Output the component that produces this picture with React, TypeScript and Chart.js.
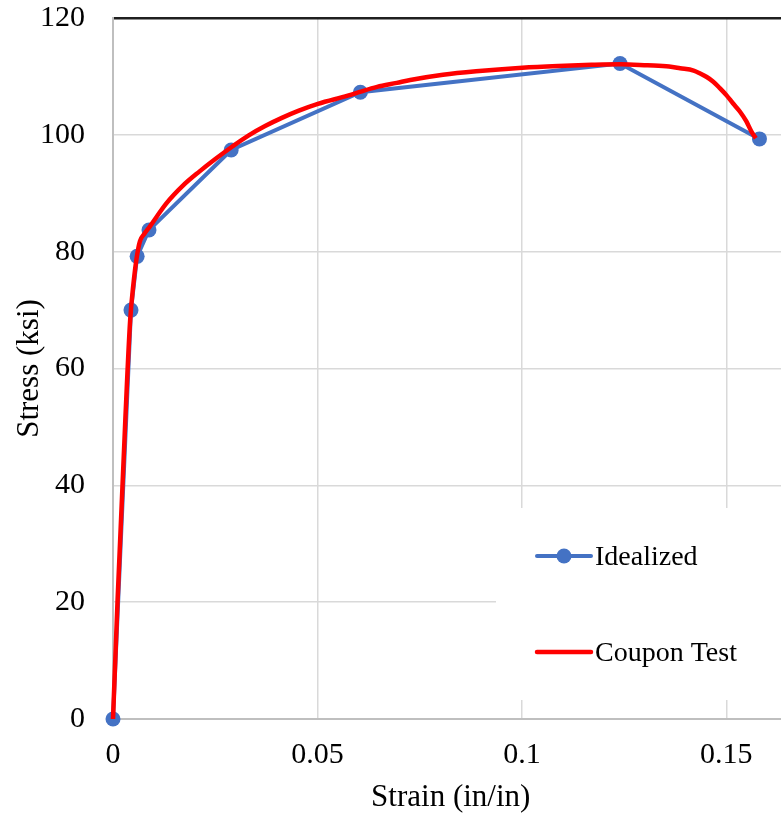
import React, { useEffect, useRef } from "react";
import { Chart, registerables } from "chart.js";

Chart.register(...registerables);

// ---- data ----
const idealStrain = [0, 0.0044, 0.0059, 0.0088, 0.0289, 0.0605, 0.124, 0.1581];
const idealStress = [0, 70.0, 79.2, 83.7, 97.4, 107.3, 112.2, 99.3];

const couponStrain = [
  0, 0.0011, 0.003, 0.0042, 0.005, 0.0058, 0.0066, 0.0076, 0.009, 0.0131, 0.0171,
  0.0211, 0.0251, 0.0292, 0.0332, 0.0372, 0.0413, 0.0453, 0.0501, 0.0574, 0.0606,
  0.0646, 0.0694, 0.0727, 0.0807, 0.0888, 0.1001, 0.1089, 0.117, 0.1242, 0.1307,
  0.136, 0.1387, 0.142, 0.1436, 0.1452, 0.1468, 0.1484, 0.15, 0.1516, 0.1533,
  0.1549, 0.1561, 0.1572,
];
const couponStress = [
  0, 20.0, 51.0, 68.3, 74.5, 79.0, 81.8, 83.0, 84.3, 88.3, 91.3,
  93.7, 95.9, 98.0, 99.9, 101.5, 102.9, 104.1, 105.3, 106.7, 107.4,
  108.2, 108.9, 109.4, 110.3, 110.9, 111.5, 111.8, 112.0, 112.1, 111.9,
  111.7, 111.4, 111.0, 110.5, 109.9, 109.1, 108.0, 106.8, 105.4, 104.0,
  102.3, 100.6, 99.4,
];

const xTicks = [0, 0.05, 0.1, 0.15];
const xTickLabels = ["0", "0.05", "0.1", "0.15"];
const yTicks = [0, 20, 40, 60, 80, 100, 120];

const seriesNames = ["Idealized", "Coupon Test"];

const FONT = "'Liberation Serif', 'Times New Roman', serif";

const boxLegend = {
  id: "boxLegend",
  afterDraw(chart: any) {
    const { ctx, chartArea } = chart;
    const x0 = chartArea.left + 383;
    const y0 = 508;
    const y1 = 700;
    ctx.save();
    ctx.fillStyle = "#ffffff";
    ctx.fillRect(x0, y0, chart.width - x0, y1 - y0);
    chart.data.datasets.forEach((ds: any, i: number) => {
      const rowY = 556 + i * 96;
      const lx0 = x0 + 41;
      const lx1 = x0 + 95;
      ctx.strokeStyle = ds.borderColor;
      ctx.lineWidth = ds.borderWidth;
      ctx.lineCap = "round";
      ctx.beginPath();
      ctx.moveTo(lx0, rowY);
      ctx.lineTo(lx1, rowY);
      ctx.stroke();
      if (ds.pointRadius > 0) {
        ctx.fillStyle = ds.pointBackgroundColor;
        ctx.beginPath();
        ctx.arc((lx0 + lx1) / 2, rowY, ds.pointRadius, 0, Math.PI * 2);
        ctx.fill();
      }
      ctx.fillStyle = "#000000";
      ctx.font = `28px ${FONT}`;
      ctx.textAlign = "left";
      ctx.textBaseline = "alphabetic";
      ctx.fillText(ds.label, lx1 + 4, rowY + 9);
    });
    ctx.restore();
  },
};

export default function App() {
  const ref = useRef<HTMLCanvasElement | null>(null);

  useEffect(() => {
    if (!ref.current) return;
    const chart = new Chart(ref.current, {
      type: "line",
      data: {
        datasets: [
          {
            label: seriesNames[0],
            data: idealStrain.map((x, i) => ({ x, y: idealStress[i] })),
            borderColor: "#4472c4",
            backgroundColor: "#4472c4",
            pointBackgroundColor: "#4472c4",
            pointBorderWidth: 0,
            pointRadius: 7.5,
            borderWidth: 4,
            tension: 0,
            clip: false as any,
            order: 2,
          },
          {
            label: seriesNames[1],
            data: couponStrain.map((x, i) => ({ x, y: couponStress[i] })),
            borderColor: "#ff0000",
            backgroundColor: "#ff0000",
            pointRadius: 0,
            borderWidth: 4.5,
            cubicInterpolationMode: "monotone",
            clip: false as any,
            order: 1,
          },
        ],
      },
      options: {
        animation: false,
        responsive: false,
        layout: { padding: { top: 18, left: 0, right: 0, bottom: 0 } },
        plugins: {
          legend: { display: false },
          tooltip: { enabled: false },
        },
        scales: {
          x: {
            type: "linear",
            min: 0,
            max: 0.1652,
            afterFit: (s: any) => {
              s.height = 100;
              s.paddingLeft = 0;
              s.paddingRight = 0;
            },
            afterBuildTicks: (s: any) => {
              s.ticks = xTicks.map((v) => ({ value: v }));
            },
            ticks: {
              color: "#000000",
              font: { family: FONT, size: 30 },
              padding: 18,
              maxRotation: 0,
              autoSkip: false,
              callback: (v: any) => {
                const i = xTicks.indexOf(Number(v));
                return i >= 0 ? xTickLabels[i] : "";
              },
            },
            grid: { color: "#d9d9d9", lineWidth: 1.5, drawTicks: false },
            border: { color: "#bfbfbf", width: 2 },
            title: {
              display: true,
              text: "Strain (in/in)",
              color: "#000000",
              font: { family: FONT, size: 31 },
              padding: { top: 0, bottom: 3 },
            },
          },
          y: {
            type: "linear",
            min: 0,
            max: 120,
            afterFit: (s: any) => {
              s.width = 113;
              s.paddingTop = 0;
              s.paddingBottom = 0;
            },
            afterBuildTicks: (s: any) => {
              s.ticks = yTicks.map((v) => ({ value: v }));
            },
            ticks: {
              color: "#000000",
              font: { family: FONT, size: 30 },
              padding: 28,
            },
            grid: {
              color: (c: any) => (c.tick && c.tick.value === 120 ? "#1f1f1f" : "#d9d9d9"),
              lineWidth: (c: any) => (c.tick && c.tick.value === 120 ? 2.5 : 1.5),
              drawTicks: false,
            },
            border: { color: "#bfbfbf", width: 2 },
            title: {
              display: true,
              text: "Stress (ksi)",
              color: "#000000",
              font: { family: FONT, size: 31 },
              padding: { top: 11, bottom: 0 },
            },
          },
        },
      },
      plugins: [boxLegend],
    });
    return () => chart.destroy();
  }, []);

  return (
    <div
      style={{
        position: "fixed",
        left: 0,
        top: 0,
        width: 781,
        height: 819,
        overflow: "hidden",
        background: "#ffffff",
      }}
    >
      <canvas ref={ref} width={796} height={819} style={{ display: "block" }} />
    </div>
  );
}
